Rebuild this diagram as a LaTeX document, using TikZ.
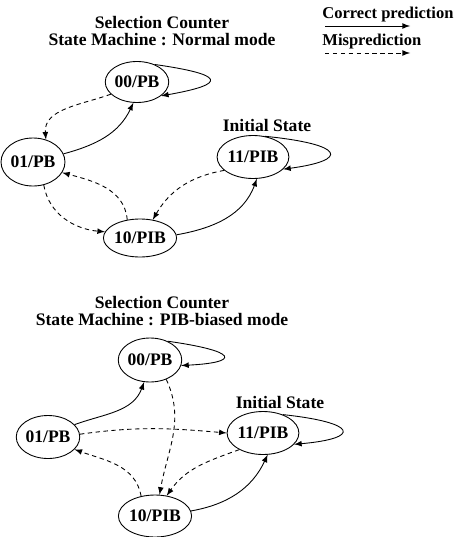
\documentclass[tikz,border=0pt]{standalone}
\usepackage{fontspec}
\setmainfont{Liberation Serif}
\usepackage{tikz}
\usetikzlibrary{arrows,shapes}

\begin{document}
\begin{tikzpicture}[x=0.02cm,y=-0.02cm,font=\bfseries,line width=0.5pt]

		\useasboundingbox (0,0) rectangle (456,537);

		\tikzstyle{edge} = [draw,-latex]
		\tikzstyle{miss} = [draw,-latex,dash pattern=on 2.5pt off 2pt]

		\tikzset{state/.style = {shape=ellipse,draw,inner sep=0pt,minimum width=1.15cm,minimum height=0.85cm}}
		\tikzset{title/.style = {align=center,font=\bfseries\linespread{0.8}\selectfont}}
		\tikzset{legend/.style = {anchor=west,inner sep=0pt,font=\bfseries\fontsize{9.4}{11}\selectfont}}

		% legend
		\node[legend] (lcor) at (322,15) {Correct prediction};
		\node[legend] (lmis) at (322,42) {Misprediction};
		\coordinate (lc1) at (325,26);
		\coordinate (lc2) at (410,26);
		\coordinate (lm1) at (325,53);
		\coordinate (lm2) at (410,53);
		\draw[edge] (lc1) to (lc2);
		\draw[miss] (lm1) to (lm2);

		% normal mode
		\node[title] (ttop) at (162,31) {Selection Counter\\State Machine : Normal mode};
		\node[state,minimum width=1.2cm,minimum height=0.82cm] (t00) at (137,82) {00/PB};
		\node[state,minimum width=1.28cm,minimum height=0.96cm] (t01) at (33,162) {01/PB};
		\node[state,minimum width=1.12cm,minimum height=0.86cm] (t11) at (253,157) {11/PIB};
		\node[state,minimum width=1.08cm,minimum height=0.76cm] (t10) at (140,238) {10/PIB};
		\node (tini) at (267,125) {Initial State};

		\draw[edge] (t00.45) .. controls +(70,10) and +(68,-12) .. (t00.-30);
		\draw[edge] (t11.60) .. controls +(80,8) and +(67,-9) .. (t11.-22);
		\draw[miss] (t00.205) to[out=200,in=95] (t01.60);
		\draw[edge] (t01.15) to[out=15,in=-115] (t00.-100);
		\draw[miss] (t10.125) to[out=95,in=-15] (t01.-20);
		\draw[miss] (t01.-65) to[out=-80,in=175] (t10.170);
		\draw[miss] (t11.205) to[out=190,in=60] (t10.55);
		\draw[edge] (t10.5) to[out=10,in=-110] (t11.-80);

		% PIB-biased mode
		\node[title] (tbot) at (162,311) {Selection Counter\\State Machine : PIB-biased mode};
		\node[state,minimum width=1.16cm,minimum height=0.88cm] (b00) at (150,360) {00/PB};
		\node[state,minimum width=1.16cm,minimum height=0.86cm] (b01) at (48,437) {01/PB};
		\node[state,minimum width=1.1cm,minimum height=0.86cm] (b11) at (263,433) {11/PIB};
		\node[state,minimum width=1.08cm,minimum height=0.84cm] (b10) at (155,516) {10/PIB};
		\node (bini) at (280,402) {Initial State};

		\draw[edge] (b00.47) .. controls +(71,10) and +(60,-3) .. (b00.-10);
		\draw[edge] (b11.43) .. controls +(75,8) and +(68,-6) .. (b11.-20);
		\draw[edge] (b01.25) to[out=20,in=-110] (b00.-105);
		\draw[miss] (b00.-50) to[out=-65,in=80] (b10.78);
		\draw[miss] (b01.5) to[out=8,in=175] (b11.west);
		\draw[miss] (b11.215) to[out=200,in=55] (b10.60);
		\draw[miss] (b10.125) to[out=100,in=-20] (b01.-25);
		\draw[edge] (b10.8) to[out=10,in=-115] (b11.-78);

\end{tikzpicture}
\end{document}
